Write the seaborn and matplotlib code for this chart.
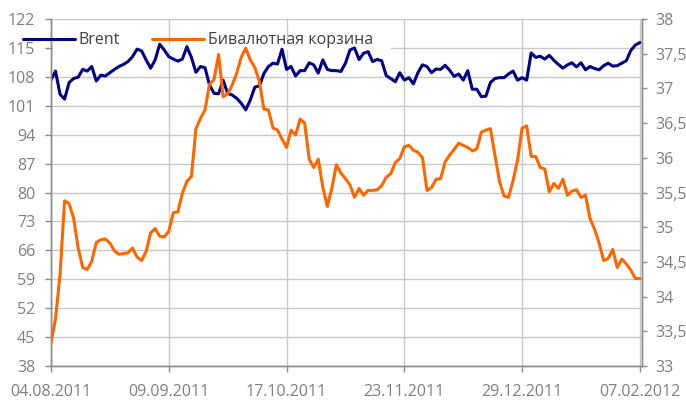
import numpy as np
import pandas as pd
import matplotlib
matplotlib.use("Agg")
import matplotlib.pyplot as plt
import matplotlib.transforms as mtransforms
from matplotlib.patches import Rectangle
from matplotlib.ticker import FuncFormatter
import seaborn as sns

# Brent, USD per barrel (left axis)
brent = [107.2, 109.4, 103.8, 102.6, 106.6, 107.6, 107.9, 109.8, 109.4, 110.5,
         107.0, 108.4, 108.2, 109.0, 109.8, 110.5, 111.0, 111.7, 112.9, 114.7,
         114.3, 112.1, 110.1, 112.1, 115.9, 114.5, 112.9, 112.3, 111.8, 112.3,
         115.3, 112.7, 109.1, 110.5, 110.2, 106.0, 104.0, 103.9, 107.2, 104.0,
         103.6, 102.8, 101.6, 100.0, 102.4, 105.5, 105.8, 108.8, 110.5, 111.3,
         111.1, 114.7, 109.8, 110.5, 108.2, 109.5, 109.5, 111.4, 110.9, 108.9,
         112.1, 109.8, 109.5, 109.5, 109.3, 111.3, 114.5, 115.0, 112.2, 113.7,
         114.1, 111.7, 112.2, 111.9, 108.3, 107.6, 106.8, 109.0, 107.2, 107.8,
         106.3, 109.0, 110.9, 110.5, 109.0, 109.9, 109.8, 110.8, 109.6, 108.1,
         108.7, 107.2, 109.5, 105.0, 105.0, 103.2, 103.3, 106.6, 107.6, 107.8,
         107.8, 108.7, 109.4, 107.2, 107.8, 107.2, 113.8, 112.7, 113.0, 112.3,
         113.2, 112.0, 111.0, 110.1, 110.9, 111.4, 110.4, 111.4, 109.7, 110.5,
         110.0, 109.7, 110.7, 111.3, 110.6, 110.7, 111.3, 111.9, 114.4, 115.7,
         116.3]

# dual-currency basket, RUB (right axis)
basket = [33.33, 33.68, 34.32, 35.38, 35.34, 35.13, 34.70, 34.42, 34.39, 34.51,
          34.78, 34.82, 34.83, 34.77, 34.66, 34.61, 34.62, 34.63, 34.70, 34.57,
          34.52, 34.65, 34.92, 34.98, 34.87, 34.86, 34.94, 35.21, 35.22, 35.49,
          35.66, 35.73, 36.42, 36.57, 36.69, 37.06, 37.13, 37.49, 36.88, 36.92,
          37.05, 37.22, 37.45, 37.58, 37.41, 37.30, 37.10, 36.70, 36.69, 36.43,
          36.40, 36.27, 36.15, 36.40, 36.33, 36.56, 36.50, 35.98, 35.86, 35.98,
          35.58, 35.30, 35.56, 35.90, 35.78, 35.70, 35.61, 35.43, 35.56, 35.46,
          35.53, 35.53, 35.54, 35.60, 35.72, 35.77, 35.93, 35.99, 36.16, 36.18,
          36.11, 36.08, 36.00, 35.53, 35.57, 35.69, 35.70, 35.94, 36.04, 36.12,
          36.21, 36.18, 36.15, 36.10, 36.13, 36.37, 36.40, 36.42, 36.04, 35.66,
          35.45, 35.43, 35.67, 35.97, 36.43, 36.46, 36.02, 36.02, 35.86, 35.84,
          35.51, 35.63, 35.56, 35.69, 35.46, 35.52, 35.54, 35.43, 35.46, 35.12,
          34.97, 34.77, 34.52, 34.55, 34.68, 34.42, 34.54, 34.47, 34.38, 34.26,
          34.26]

date_labels = ["04.08.2011", "09.09.2011", "17.10.2011",
               "23.11.2011", "29.12.2011", "07.02.2012"]
date_pos = [0, 26, 52, 78, 104, 130]
left_ticks = list(range(38, 123, 7))
right_ticks = list(np.arange(33, 38.01, 0.5))

df = pd.DataFrame({"idx": np.arange(len(brent)), "brent": brent, "basket": basket})

sns.set_theme(style="white")
plt.rcParams["font.family"] = ["Open Sans", "DejaVu Sans"]

tick_col = "#7f7f7f"
spine_col = "#8c8c8c"
grid_col = "#c8c8c8"

fig = plt.figure(figsize=(6.86, 4.01), dpi=100)
ax1 = fig.add_axes([0.0743, 0.0873, 0.8618, 0.8653])
ax2 = ax1.twinx()

sns.lineplot(data=df, x="idx", y="brent", ax=ax1, color="#000080", lw=2.2, legend=False)
sns.lineplot(data=df, x="idx", y="basket", ax=ax2, color="#ff6600", lw=2.2, legend=False)

ax1.set_xlim(0, 130.5)
ax1.set_ylim(38, 122)
ax2.set_ylim(33, 38)
ax1.set_xticks(date_pos)
ax1.set_xticklabels(date_labels)
ax1.set_yticks(left_ticks)
ax2.set_yticks(right_ticks)
ax2.yaxis.set_major_formatter(FuncFormatter(lambda v, p: f"{v:g}".replace(".", ",")))
for a in (ax1, ax2):
    a.set_xlabel("")
    a.set_ylabel("")

ax1.grid(True, color=grid_col, lw=1)
ax2.grid(False)

# legend covers the 115 gridline
tr = mtransforms.blended_transform_factory(ax1.transAxes, ax1.transData)
ax1.add_patch(Rectangle((0.003, 114.4), 0.572, 1.2, transform=tr,
                        facecolor="white", edgecolor="none", zorder=1))

ax1.tick_params(axis="y", left=True, length=4.3, width=1, color=spine_col,
                labelcolor=tick_col, labelsize=11.5, pad=7)
ax1.tick_params(axis="x", bottom=True, length=4.3, width=1, color=spine_col,
                labelcolor=tick_col, labelsize=11.5, pad=9)
ax2.tick_params(axis="y", right=True, length=3.6, width=1, color=spine_col,
                labelcolor=tick_col, labelsize=11.5, pad=6)

for a in (ax1, ax2):
    a.spines["top"].set_visible(False)
    for s in ("left", "bottom", "right"):
        a.spines[s].set_color(spine_col)
        a.spines[s].set_linewidth(1)

l1 = ax1.get_lines()[0]
l2 = ax2.get_lines()[0]
ax2.legend([l1, l2], ["Brent", "Бивалютная корзина"], loc="center left",
           bbox_to_anchor=(0.033, 0.900), bbox_transform=fig.transFigure,
           ncol=2, frameon=False, handlelength=3.25, handletextpad=0.25,
           columnspacing=2.0, borderpad=0, borderaxespad=0, fontsize=11.5,
           labelcolor="#404040")

plt.savefig("out.png", dpi=100)
